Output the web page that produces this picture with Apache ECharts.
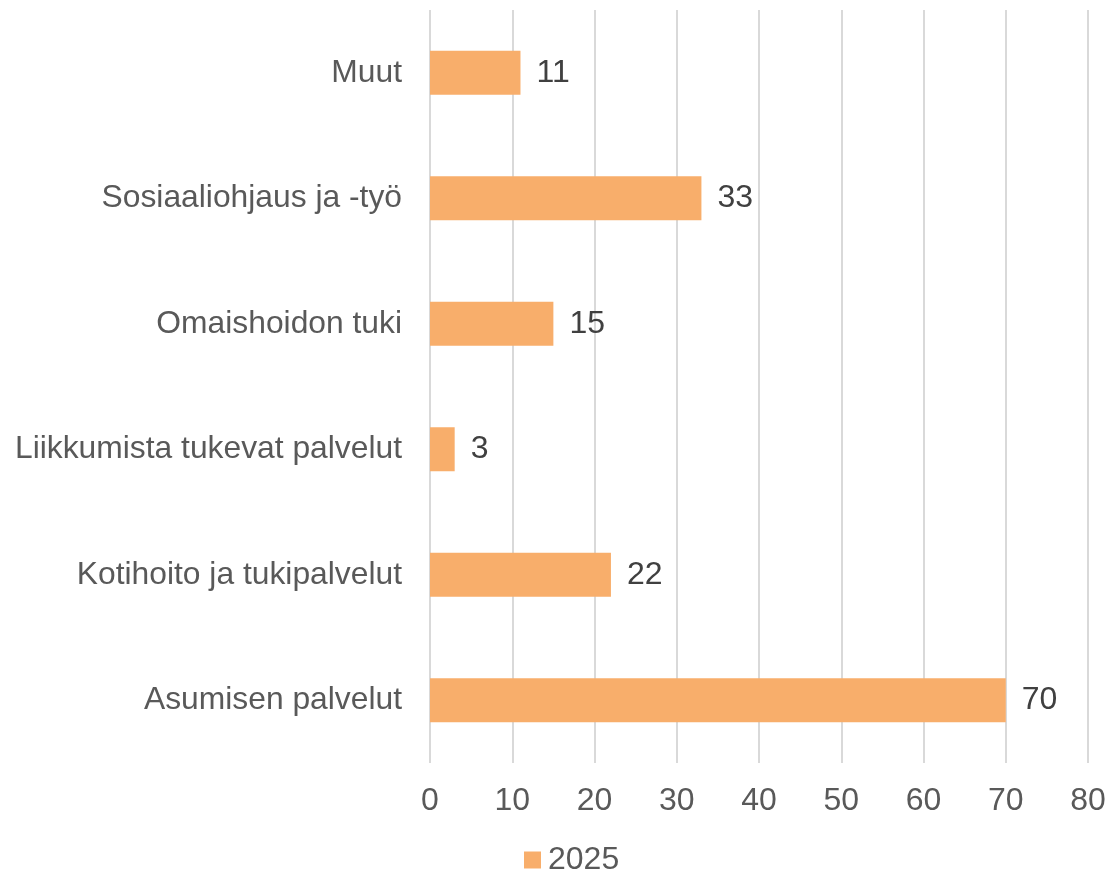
<!DOCTYPE html>
<html>
<head>
	<meta charset="utf-8" />
	<title>2025</title>
	<script type="text/javascript" src="https://cdn.jsdelivr.net/npm/echarts@6/dist/echarts.min.js"></script>
	<style>
		html, body {margin:0;padding:0;background:#fff;}
		#chart {width:1110px;height:875px;}
	</style>
</head>
<body>
	<div id="chart"></div>

	<script>
		// alhaalta ylos
		var categories = ['Asumisen palvelut', 'Kotihoito ja tukipalvelut', 'Liikkumista tukevat palvelut', 'Omaishoidon tuki', 'Sosiaaliohjaus ja -työ', 'Muut'];
		var values2025 = [70, 22, 3, 15, 33, 11];
		var seriesName = '2025';

		var chart = echarts.init(document.getElementById('chart'));

		var option = {
			animation: false,
			textStyle: {
				fontFamily: 'Liberation Sans, Arial, sans-serif'
			},
			grid: {
				left: 430,
				right: 22,
				top: 10,
				bottom: 112,
				containLabel: false
			},
			legend: {
				top: 844,
				left: 524,
				padding: 0,
				itemWidth: 17,
				itemHeight: 17,
				itemGap: 8,
				icon: 'rect',
				textStyle: {
					fontSize: 32,
					color: '#595959',
					padding: [0, 0, 0, 2]
				},
				data: [seriesName]
			},
			xAxis: {
				type: 'value',
				min: 0,
				max: 80,
				interval: 10,
				axisLine: {show: false},
				axisTick: {show: false},
				axisLabel: {
					fontSize: 32,
					color: '#595959',
					margin: 22
				},
				splitLine: {
					lineStyle: {color: '#d9d9d9', width: 2}
				}
			},
			yAxis: {
				type: 'category',
				data: categories,
				axisLine: {show: false},
				axisTick: {show: false},
				axisLabel: {
					fontSize: 31.8,
					color: '#595959',
					margin: 28
				}
			},
			series: [
				{
					name: seriesName,
					type: 'bar',
					data: values2025,
					barWidth: 44,
					itemStyle: {color: '#f8ae6b'},
					label: {
						show: true,
						position: 'right',
						distance: 16,
						fontSize: 32,
						color: '#404040'
					}
				}
			]
		};

		chart.setOption(option);
	</script>
</body>
</html>
